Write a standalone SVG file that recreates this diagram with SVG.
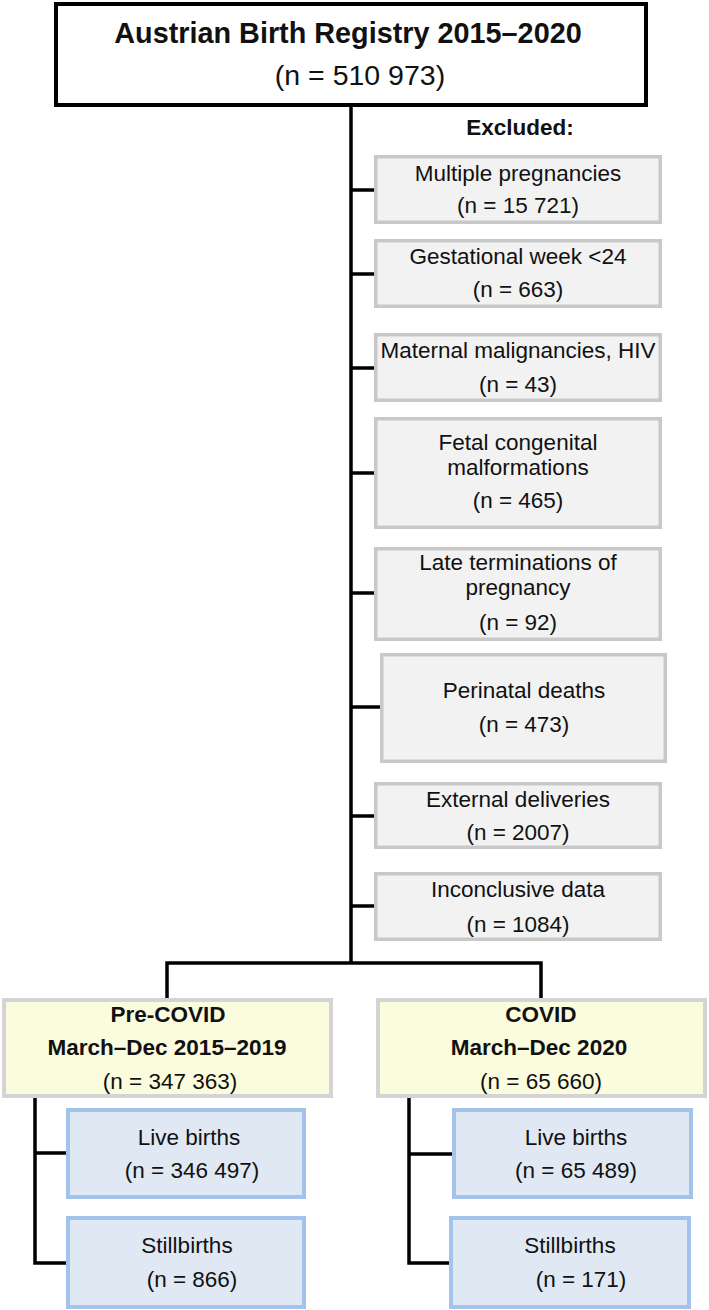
<svg xmlns="http://www.w3.org/2000/svg" width="709" height="1310" viewBox="0 0 709 1310">
<style>
text{font-family:"Liberation Sans",Arial,sans-serif;fill:#111;text-anchor:middle}
.t{font-size:22.5px}
.b{font-weight:bold}
.top{fill:#fff;stroke:#000;stroke-width:4}
.ex{fill:#f2f2f2;stroke:#c8c8c8;stroke-width:3.5}
.yl{fill:#fbfbdd;stroke:#d4d4d4;stroke-width:4}
.bl{fill:#dfe8f3;stroke:#a3c3ea;stroke-width:4}
.c{fill:none;stroke:#000;stroke-width:3.5}
</style>
<rect width="709" height="1310" fill="#fff"/>
<g id="connectors">
<path class="c" d="M351 107V963M167 998V963H541V998"/>
<path class="c" d="M351 190H375M351 274H375M351 368H375M351 473H375M351 593H375M351 707H381M351 816H375M351 906H375"/>
<path class="c" d="M35 1098V1263H67M35 1153H67"/>
<path class="c" d="M409 1098V1263H450M409 1154H453"/>
</g>
<g id="registry">
<rect class="top" x="56" y="4" width="590" height="101"/>
<text class="b" x="348" y="43" font-size="28.8">Austrian Birth Registry 2015–2020</text>
<text x="360" y="85" font-size="28.5">(n = 510 973)</text>
</g>
<g id="excluded-label"><text class="t b" x="520" y="135">Excluded:</text></g>
<g id="ex1"><rect class="ex" x="375.75" y="156.75" width="284.5" height="65.5"/>
<text class="t" x="518" y="181">Multiple pregnancies</text><text class="t" x="518" y="213">(n = 15 721)</text></g>
<g id="ex2"><rect class="ex" x="375.75" y="240.75" width="284.5" height="65.5"/>
<text class="t" x="518" y="264">Gestational week &lt;24</text><text class="t" x="518" y="297">(n = 663)</text></g>
<g id="ex3"><rect class="ex" x="375.75" y="334.75" width="284.5" height="65.5"/>
<text class="t" x="518" y="358">Maternal malignancies, HIV</text><text class="t" x="518" y="392">(n = 43)</text></g>
<g id="ex4"><rect class="ex" x="375.75" y="418.75" width="284.5" height="108.5"/>
<text class="t" x="518" y="450">Fetal congenital</text><text class="t" x="518" y="475">malformations</text><text class="t" x="518" y="508">(n = 465)</text></g>
<g id="ex5"><rect class="ex" x="375.75" y="548.75" width="284.5" height="90.5"/>
<text class="t" x="518" y="570">Late terminations of</text><text class="t" x="518" y="595">pregnancy</text><text class="t" x="518" y="630">(n = 92)</text></g>
<g id="ex6"><rect class="ex" x="381.75" y="654.75" width="283.5" height="106.5"/>
<text class="t" x="524" y="698">Perinatal deaths</text><text class="t" x="524" y="732">(n = 473)</text></g>
<g id="ex7"><rect class="ex" x="375.75" y="783.75" width="284.5" height="63.5"/>
<text class="t" x="518" y="807">External deliveries</text><text class="t" x="518" y="840">(n = 2007)</text></g>
<g id="ex8"><rect class="ex" x="375.75" y="873.75" width="284.5" height="65.5"/>
<text class="t" x="518" y="897">Inconclusive data</text><text class="t" x="518" y="932">(n = 1084)</text></g>
<g id="precovid"><rect class="yl" x="4" y="1000" width="327" height="96"/>
<text class="t b" x="168" y="1022">Pre-COVID</text><text class="t b" x="167" y="1055">March–Dec 2015–2019</text><text class="t" x="170" y="1089">(n = 347 363)</text></g>
<g id="covid"><rect class="yl" x="378" y="1000" width="327" height="96"/>
<text class="t b" x="541" y="1022">COVID</text><text class="t b" x="539" y="1055">March–Dec 2020</text><text class="t" x="541" y="1089">(n = 65 660)</text></g>
<g id="pre-live"><rect class="bl" x="68" y="1110" width="236" height="87"/>
<text class="t" x="189" y="1145">Live births</text><text class="t" x="192" y="1178">(n = 346 497)</text></g>
<g id="pre-still"><rect class="bl" x="68" y="1218" width="236" height="89"/>
<text class="t" x="187" y="1253">Stillbirths</text><text class="t" x="192" y="1287">(n = 866)</text></g>
<g id="covid-live"><rect class="bl" x="454" y="1110" width="237" height="87"/>
<text class="t" x="576" y="1145">Live births</text><text class="t" x="576" y="1178">(n = 65 489)</text></g>
<g id="covid-still"><rect class="bl" x="451" y="1218" width="238" height="89"/>
<text class="t" x="570" y="1253">Stillbirths</text><text class="t" x="581" y="1287">(n = 171)</text></g>
</svg>
